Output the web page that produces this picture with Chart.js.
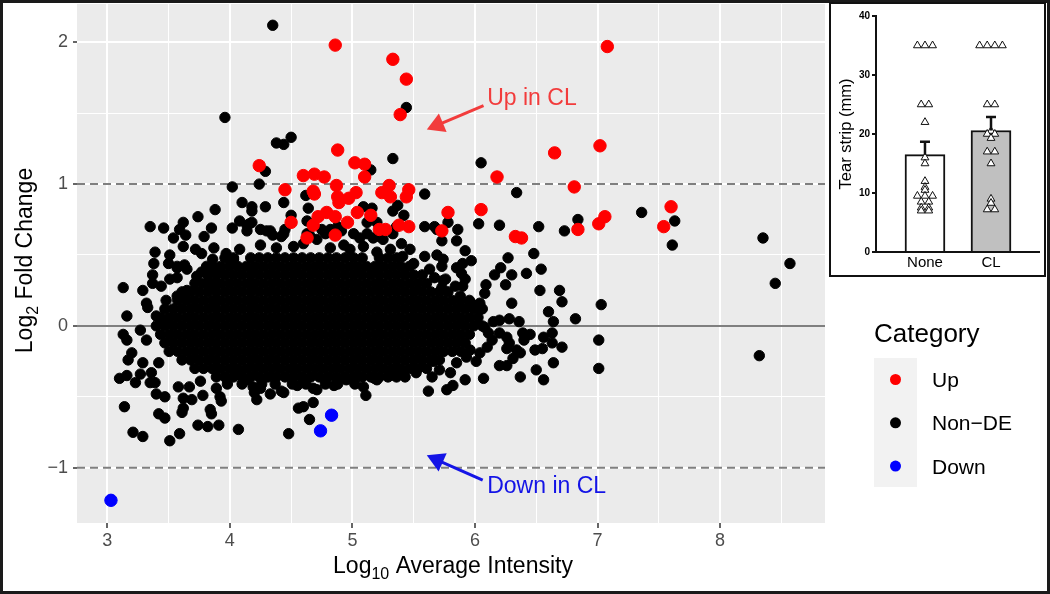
<!DOCTYPE html>
<html lang="en">
<head>
<meta charset="utf-8">
<title>MA plot - CL vs None</title>
<script src="https://cdn.jsdelivr.net/npm/chart.js@4.4.1/dist/chart.umd.min.js"></script>
<style>
    html, body { margin: 0; padding: 0; background: #fff; }
    #page { position: relative; width: 1050px; height: 594px; overflow: hidden; }
    #maChart { position: absolute; left: 0; top: 0; }
    #insetBox { position: absolute; left: 829px; top: 2px; width: 213px; height: 271px; border: 2px solid #111; background: #fff; }
    #insetChart { display: block; }
</style>
</head>
<body>
<div id="page">
    <canvas id="maChart" width="1050" height="594"></canvas>
    <div id="insetBox"><canvas id="insetChart" width="213" height="271"></canvas></div>
</div>
<script>
// ---------- data: MA plot ----------
const xTicks = [3, 4, 5, 6, 7, 8];
const xGrid = [3, 3.5, 4, 4.5, 5, 5.5, 6, 6.5, 7, 7.5, 8, 8.5];
const yTicks = [-1, 0, 1, 2];
const yGrid = [-1, -0.5, 0, 0.5, 1, 1.5, 2];
const foldCutoffs = [-1, 1];
const categories = ["Up", "Non\u2212DE", "Down"];
const legendTitle = "Category";

const upPoints = [
    [4.86,1.98],[5.33,1.88],[5.44,1.74],[5.39,1.49],[4.88,1.24],[4.24,1.13],[5.02,1.15],[5.10,1.14],
    [5.10,1.05],[4.60,1.06],[4.69,1.07],[4.77,1.05],[4.45,0.96],[4.68,0.95],[4.69,0.93],[4.87,0.99],
    [4.88,0.91],[4.89,0.87],[4.97,0.90],[5.03,0.94],[5.24,0.94],[5.30,0.99],[5.31,0.91],[5.44,0.91],
    [5.46,0.96],[4.50,0.73],[4.68,0.71],[4.72,0.77],[4.79,0.80],[4.86,0.77],[4.96,0.73],[5.04,0.80],
    [5.15,0.78],[5.22,0.68],[5.27,0.68],[5.38,0.71],[5.46,0.70],[4.63,0.62],[4.86,0.64],[7.08,1.97],
    [6.65,1.22],[7.02,1.27],[6.18,1.05],[6.81,0.98],[5.78,0.80],[6.05,0.82],[7.60,0.84],[7.54,0.70],
    [7.06,0.77],[7.01,0.72],[6.84,0.68],[5.73,0.67],[6.33,0.63],[6.38,0.62]
];

const downPoints = [[3.03,-1.23],[4.74,-0.74],[4.83,-0.63]];

// scattered Non-DE points outside the dense core
const nonDePoints = [
    [4.35,2.12],[3.96,1.47],[5.44,1.54],[4.38,1.29],[4.44,1.28],[4.50,1.33],[5.33,1.18],[4.29,1.09],
    [5.15,1.10],[6.05,1.15],[4.02,0.98],[4.24,1.00],[4.62,0.92],[5.59,0.93],[6.34,0.94],
    [4.10,0.87],[4.18,0.84],[4.18,0.81],[4.29,0.84],[4.44,0.87],[4.64,0.83],[4.50,0.78],[5.09,0.84],
    [5.16,0.83],[5.37,0.85],[5.42,0.78],[5.33,0.81],[3.88,0.82],[3.74,0.77],[5.20,0.73],[5.12,0.73],
    [3.35,0.70],[3.46,0.69],[3.62,0.73],[3.59,0.68],[3.64,0.64],[3.54,0.62],[3.85,0.69],[3.79,0.63],
    [4.02,0.69],[4.08,0.74],[4.14,0.71],[4.16,0.72],[4.18,0.73],[4.14,0.67],[4.25,0.68],[4.30,0.67],
    [4.35,0.64],[4.33,0.67],[4.44,0.65],[4.45,0.68],[4.42,0.63],[4.63,0.74],[4.63,0.65],[4.65,0.64],
    [4.75,0.68],[4.78,0.65],[4.82,0.68],[4.88,0.70],[4.91,0.67],[5.01,0.65],[5.06,0.62],[5.12,0.65],
    [5.17,0.62],[5.22,0.63],[5.25,0.61],[5.36,0.70],[5.33,0.65],[5.40,0.58],[5.47,0.54],
    [5.59,0.70],[5.67,0.70],[5.69,0.68],[5.78,0.73],[5.86,0.68],[5.73,0.60],[5.85,0.60],[6.03,0.72],
    [6.20,0.71],[6.52,0.70],[6.73,0.67],[6.84,0.75],[7.36,0.80],[7.63,0.74],[7.61,0.57],[8.35,0.62],
    [8.57,0.44],[8.45,0.30],
    [3.39,0.52],[3.38,0.44],[3.51,0.50],[3.50,0.44],[3.72,0.54],[3.77,0.51],[3.87,0.55],[3.62,0.56],
    [3.57,0.42],[3.63,0.43],[3.57,0.41],[3.65,0.40],[3.97,0.51],[4.03,0.47],[4.08,0.54],[3.86,0.47],
    [3.81,0.42],[3.77,0.38],[3.89,0.40],[3.73,0.35],[3.84,0.30],
    [4.52,0.56],[4.60,0.58],[4.71,0.61],[4.82,0.55],[4.93,0.57],[4.98,0.54],[5.09,0.56],[5.20,0.52],
    [5.31,0.54],[5.41,0.49],[5.50,0.44],[4.25,0.57],[4.38,0.55],
    [3.37,0.36],[3.37,0.30],[3.13,0.27],[3.29,0.25],[3.44,0.28],[3.51,0.33],[3.57,0.34],[3.48,0.18],
    [3.57,0.21],[3.65,0.25],[3.40,0.07],[3.46,0.02],[3.32,0.16],[3.33,0.13],[3.16,0.07],[3.13,-0.06],
    [3.27,-0.03],[3.32,-0.10],[3.16,-0.10],[3.20,-0.19],[3.17,-0.24],[3.10,-0.37],[3.16,-0.35],
    [3.14,-0.57],[3.21,-0.75],[3.29,-0.78],[3.29,-0.26],[3.27,-0.34],[3.23,-0.40],[3.36,-0.33],
    [3.42,-0.26],[3.39,-0.40],[3.35,-0.40],[3.40,-0.48],[3.47,-0.50],
    [3.51,-0.81],[3.59,-0.76],[3.42,-0.62],[3.47,-0.65],[3.61,-0.61],[3.62,-0.58],[3.74,-0.70],
    [3.82,-0.71],[3.91,-0.70],[4.07,-0.73],[3.84,-0.59],[3.85,-0.62],[3.78,-0.49],[3.62,-0.51],
    [3.69,-0.52],[3.58,-0.43],[3.67,-0.43],[3.76,-0.39],[3.92,-0.50],[3.93,-0.53],[3.89,-0.44],
    [4.06,-0.33],[4.14,-0.38],[4.20,-0.47],[4.22,-0.52],[4.33,-0.48],[4.42,-0.46],[4.44,-0.47],
    [4.56,-0.58],[4.60,-0.57],[4.68,-0.54],[4.65,-0.66],[4.48,-0.76],[4.68,-0.44],[4.71,-0.45],
    [5.09,-0.43],[5.11,-0.49],[4.95,-0.38],[5.18,-0.37],[5.20,-0.38],[5.31,-0.35],[5.39,-0.32],
    [5.52,-0.33],[4.19,-0.43],[4.25,-0.44],[3.98,-0.41],[4.55,-0.42],[4.85,-0.42],
    [5.59,0.49],[5.69,0.50],[5.74,0.47],[5.76,0.33],[5.67,0.34],[5.63,0.40],[5.73,0.27],[5.73,0.42],
    [5.74,0.32],[5.84,0.28],[5.90,0.28],[5.92,0.53],[5.97,0.46],[5.90,0.44],[5.85,0.41],[5.89,0.37],
    [5.92,0.33],[6.27,0.48],[6.21,0.41],[6.16,0.36],[6.30,0.36],[6.42,0.37],[6.48,0.51],[6.54,0.40],
    [6.25,0.29],[6.09,0.29],[6.08,0.23],[6.04,0.16],[6.05,0.12],[5.97,0.16],[5.88,0.21],[6.30,0.16],
    [6.53,0.25],[6.69,0.25],[6.71,0.17],[6.60,0.10],[6.64,0.03],[6.82,0.05],[7.03,0.15],[7.01,-0.10],
    [7.01,-0.30],[8.32,-0.21],
    [6.15,0.03],[6.20,0.04],[6.28,0.05],[6.36,0.03],[6.08,-0.01],[6.11,-0.05],[6.14,-0.10],
    [6.10,-0.15],[6.04,-0.19],[6.01,-0.25],[6.20,-0.05],[6.26,-0.08],[6.28,-0.12],[6.26,-0.16],
    [6.34,-0.17],[6.37,-0.19],[6.31,-0.23],[6.20,-0.28],[6.26,-0.28],[6.39,-0.05],[6.45,-0.06],
    [6.40,-0.10],[6.56,-0.08],[6.63,-0.05],[6.63,-0.12],[6.71,-0.15],[6.55,-0.16],[6.49,-0.17],
    [6.64,-0.26],[6.50,-0.31],[6.56,-0.38],[6.37,-0.36],[6.07,-0.37],[5.92,-0.38],[5.82,-0.42],
    [5.77,-0.45],[5.62,-0.46],[5.93,-0.22],[5.96,-0.17],[5.85,-0.26],[5.80,-0.33],[5.71,-0.31],
    [5.66,-0.25],[5.65,-0.36]
];

// dense core of Non-DE points, read row by row: [log2 FC, [log10 intensities]]
const nonDeRows = [
    [0.48, [3.96,4.03,4.17,4.24,4.31,4.38,4.45,4.52,4.59,4.66,4.73,4.80,4.87,4.94,5.01,5.08,5.22,5.29,5.36]],
    [0.42, [3.855,3.925,3.995,4.065,4.135,4.205,4.275,4.345,4.415,4.485,4.555,4.625,4.695,4.765,4.835,4.905,4.975,5.045,5.115,5.185,5.255,5.325,5.395,5.465]],
    [0.36, [3.82,3.89,3.96,4.03,4.10,4.17,4.24,4.31,4.38,4.45,4.52,4.59,4.66,4.73,4.80,4.87,4.94,5.01,5.08,5.15,5.22,5.29,5.36,5.43,5.50,5.57]],
    [0.30, [3.715,3.785,3.855,3.925,3.995,4.065,4.135,4.205,4.275,4.345,4.415,4.485,4.555,4.625,4.695,4.765,4.835,4.905,4.975,5.045,5.115,5.185,5.255,5.325,5.395,5.465,5.535,5.605]],
    [0.24, [3.61,3.68,3.75,3.82,3.89,3.96,4.03,4.10,4.17,4.24,4.31,4.38,4.45,4.52,4.59,4.66,4.73,4.80,4.87,4.94,5.01,5.08,5.15,5.22,5.29,5.36,5.43,5.50,5.57,5.64,5.71,5.78]],
    [0.18, [3.575,3.645,3.715,3.785,3.855,3.925,3.995,4.065,4.135,4.205,4.275,4.345,4.415,4.485,4.555,4.625,4.695,4.765,4.835,4.905,4.975,5.045,5.115,5.185,5.255,5.325,5.395,5.465,5.535,5.605,5.675,5.745,5.815,5.885,5.955]],
    [0.12, [3.47,3.54,3.61,3.68,3.75,3.82,3.89,3.96,4.03,4.10,4.17,4.24,4.31,4.38,4.45,4.52,4.59,4.66,4.73,4.80,4.87,4.94,5.01,5.08,5.15,5.22,5.29,5.36,5.43,5.50,5.57,5.64,5.71,5.78,5.85,5.92,5.99,6.06]],
    [0.06, [3.435,3.505,3.575,3.645,3.715,3.785,3.855,3.925,3.995,4.065,4.135,4.205,4.275,4.345,4.415,4.485,4.555,4.625,4.695,4.765,4.835,4.905,4.975,5.045,5.115,5.185,5.255,5.325,5.395,5.465,5.535,5.605,5.675,5.745,5.815,5.885,5.955,6.025]],
    [0.00, [3.40,3.47,3.54,3.61,3.68,3.75,3.82,3.89,3.96,4.03,4.10,4.17,4.24,4.31,4.38,4.45,4.52,4.59,4.66,4.73,4.80,4.87,4.94,5.01,5.08,5.15,5.22,5.29,5.36,5.43,5.50,5.57,5.64,5.71,5.78,5.85,5.92,5.99,6.06]],
    [-0.06, [3.435,3.505,3.575,3.645,3.715,3.785,3.855,3.925,3.995,4.065,4.135,4.205,4.275,4.345,4.415,4.485,4.555,4.625,4.695,4.765,4.835,4.905,4.975,5.045,5.115,5.185,5.255,5.325,5.395,5.465,5.535,5.605,5.675,5.745,5.815,5.885,5.955]],
    [-0.12, [3.47,3.54,3.61,3.68,3.75,3.82,3.89,3.96,4.03,4.10,4.17,4.24,4.31,4.38,4.45,4.52,4.59,4.66,4.73,4.80,4.87,4.94,5.01,5.08,5.15,5.22,5.29,5.36,5.43,5.50,5.57,5.64,5.71,5.78,5.85,5.92]],
    [-0.18, [3.505,3.575,3.645,3.715,3.785,3.855,3.925,3.995,4.065,4.135,4.205,4.275,4.345,4.415,4.485,4.555,4.625,4.695,4.765,4.835,4.905,4.975,5.045,5.115,5.185,5.255,5.325,5.395,5.465,5.535,5.605,5.675,5.745,5.815,5.885]],
    [-0.24, [3.61,3.68,3.75,3.82,3.89,3.96,4.03,4.10,4.17,4.24,4.31,4.38,4.45,4.52,4.59,4.66,4.73,4.80,4.87,4.94,5.01,5.08,5.15,5.22,5.29,5.36,5.43,5.50,5.57,5.64,5.71]],
    [-0.30, [3.715,3.785,3.855,3.925,3.995,4.065,4.135,4.205,4.275,4.345,4.415,4.485,4.555,4.625,4.695,4.765,4.835,4.905,4.975,5.045,5.115,5.185,5.255,5.325,5.395,5.465,5.535,5.605]],
    [-0.36, [3.89,3.96,4.03,4.10,4.17,4.24,4.31,4.38,4.45,4.52,4.59,4.66,4.73,4.80,4.87,4.94,5.01,5.08,5.15,5.22,5.29,5.36,5.43]],
    [-0.41, [4.10,4.26,4.37,4.51,4.62,4.78,4.88,5.02]]
];

// ---------- data: inset (tear strip) ----------
const insetGroups = ["None", "CL"];
const insetMeans = [16.5, 20.6];
const insetSem = [2.2, 2.3];
const tearNone = [35, 35, 35, 25, 25, 22, 16, 15, 12, 11, 10.5, 9.5, 9.5, 9.5, 8.5, 8.5, 7.5, 7.5, 7, 7];
const tearCL = [35, 35, 35, 35, 25, 25, 20.5, 20, 20, 19.3, 17, 17, 15, 9, 8.3, 7.2, 7.2];
const insetTicks = [0, 10, 20, 30, 40];

// ---------- styles ----------
const FONT = "'Liberation Sans', Arial, Helvetica, sans-serif";
const catColor = { "Up": "#FF0000", "Non\u2212DE": "#000000", "Down": "#0000FF" };

const notes = [
    { text: "Up in CL", color: "#F23C3C", at: [6.10, 1.56], tail: [6.07, 1.553], head: [5.607, 1.385] },
    { text: "Down in CL", color: "#1414E6", at: [6.10, -1.181], tail: [6.063, -1.087], head: [5.607, -0.913] }
];

function toXY(list) {
    return list.map(p => ({ x: p[0], y: p[1] }));
}

const nonDeAll = nonDePoints.concat(nonDeRows.flatMap(r => r[1].map(x => [x, r[0]])));

function drawArrow(ctx, x1, y1, x2, y2, color) {
    const ang = Math.atan2(y2 - y1, x2 - x1);
    const headLen = 20, headAng = Math.PI / 6;
    ctx.strokeStyle = color;
    ctx.fillStyle = color;
    ctx.lineWidth = 3;
    ctx.beginPath();
    ctx.moveTo(x1, y1);
    ctx.lineTo(x2 - Math.cos(ang) * 14, y2 - Math.sin(ang) * 14);
    ctx.stroke();
    ctx.beginPath();
    ctx.moveTo(x2, y2);
    ctx.lineTo(x2 - headLen * Math.cos(ang - headAng), y2 - headLen * Math.sin(ang - headAng));
    ctx.lineTo(x2 - headLen * Math.cos(ang + headAng), y2 - headLen * Math.sin(ang + headAng));
    ctx.closePath();
    ctx.fill();
}

// text with a subscript part, centred on x
function drawSubText(ctx, parts, cx, y) {
    const big = `23px ${FONT}`, small = `16px ${FONT}`;
    let total = 0;
    const widths = parts.map(p => {
        ctx.font = p[1] ? small : big;
        const w = ctx.measureText(p[0]).width;
        total += w;
        return w;
    });
    let x = cx - total / 2;
    ctx.textAlign = "left";
    ctx.textBaseline = "alphabetic";
    parts.forEach((p, i) => {
        ctx.font = p[1] ? small : big;
        ctx.fillText(p[0], x, p[1] ? y + 6 : y);
        x += widths[i];
    });
}

// keep the panel exactly where the reference has it (no label overhang padding)
function noOverhang(ax) {
    ax.paddingTop = 0;
    ax.paddingBottom = 0;
    ax.paddingLeft = 0;
    ax.paddingRight = 0;
}

const maDecor = {
    id: "maDecor",
    beforeDraw(chart) {
        const { ctx, chartArea: a } = chart;
        ctx.save();
        ctx.fillStyle = "#FFFFFF";
        ctx.fillRect(0, 0, chart.width, chart.height);
        ctx.fillStyle = "#EBEBEB";
        ctx.fillRect(a.left, a.top, a.right - a.left, a.bottom - a.top);
        ctx.restore();
    },
    beforeDatasetsDraw(chart) {
        const { ctx, chartArea: a, scales } = chart;
        ctx.save();
        ctx.strokeStyle = "#7F7F7F";
        ctx.lineWidth = 2;
        let py = scales.y.getPixelForValue(0);
        ctx.beginPath();
        ctx.moveTo(a.left, py);
        ctx.lineTo(a.right, py);
        ctx.stroke();
        ctx.setLineDash([8, 5]);
        foldCutoffs.forEach(v => {
            py = scales.y.getPixelForValue(v);
            ctx.beginPath();
            ctx.moveTo(a.left, py);
            ctx.lineTo(a.right, py);
            ctx.stroke();
        });
        ctx.restore();
    },
    afterDatasetsDraw(chart) {
        const { ctx, scales: { x, y } } = chart;
        ctx.save();
        notes.forEach(n => {
            drawArrow(ctx, x.getPixelForValue(n.tail[0]), y.getPixelForValue(n.tail[1]),
                x.getPixelForValue(n.head[0]), y.getPixelForValue(n.head[1]), n.color);
            ctx.fillStyle = n.color;
            ctx.font = `23px ${FONT}`;
            ctx.textAlign = "left";
            ctx.textBaseline = "alphabetic";
            ctx.fillText(n.text, x.getPixelForValue(n.at[0]), y.getPixelForValue(n.at[1]));
        });
        ctx.restore();
    },
    afterDraw(chart) {
        const { ctx, chartArea: a } = chart;
        ctx.save();
        ctx.fillStyle = "#000000";
        // axis titles
        drawSubText(ctx, [["Log", false], ["10", true], [" Average Intensity", false]], (a.left + a.right) / 2 + 2, 573);
        ctx.save();
        ctx.translate(31.5, (a.top + a.bottom) / 2 - 3);
        ctx.rotate(-Math.PI / 2);
        drawSubText(ctx, [["Log", false], ["2", true], [" Fold Change", false]], 0, 0);
        ctx.restore();

        // legend
        ctx.fillStyle = "#000000";
        ctx.font = `26px ${FONT}`;
        ctx.textAlign = "left";
        ctx.textBaseline = "alphabetic";
        ctx.fillText(legendTitle, 874, 342);
        ctx.fillStyle = "#F2F2F2";
        ctx.fillRect(874, 358, 43, 129);
        categories.forEach((c, i) => {
            const cy = 379.5 + i * 43.3;
            ctx.beginPath();
            ctx.arc(895.5, cy, 5.5, 0, Math.PI * 2);
            ctx.fillStyle = catColor[c];
            ctx.fill();
            ctx.fillStyle = "#000000";
            ctx.font = `21px ${FONT}`;
            ctx.fillText(c, 932, cy + 7.5);
        });

        // frame round the whole figure
        ctx.strokeStyle = "#1A1A1A";
        ctx.lineWidth = 3;
        ctx.strokeRect(1.5, 1.5, 1047, 591);
        ctx.restore();
    }
};

const isMajorX = c => c.tick && xTicks.includes(c.tick.value);
const isMajorY = c => c.tick && yTicks.includes(c.tick.value);

const maChart = new Chart(document.getElementById("maChart"), {
    type: "scatter",
    data: {
        datasets: [
            {
                label: categories[0], data: toXY(upPoints), order: 0,
                pointRadius: 6.2, pointBorderWidth: 1,
                pointBackgroundColor: catColor["Up"], pointBorderColor: catColor["Up"]
            },
            {
                label: categories[2], data: toXY(downPoints), order: 1,
                pointRadius: 6.2, pointBorderWidth: 1,
                pointBackgroundColor: catColor["Down"], pointBorderColor: catColor["Down"]
            },
            {
                label: categories[1], data: toXY(nonDeAll), order: 2,
                pointRadius: 5.2, pointBorderWidth: 1,
                pointBackgroundColor: catColor["Non\u2212DE"], pointBorderColor: catColor["Non\u2212DE"]
            }
        ]
    },
    options: {
        responsive: false,
        animation: false,
        events: [],
        devicePixelRatio: 1,
        layout: { autoPadding: false, padding: { left: 0, top: 4, right: 225, bottom: 0 } },
        plugins: { legend: { display: false }, tooltip: { enabled: false } },
        scales: {
            x: {
                type: "linear", min: 2.753, max: 8.856,
                afterBuildTicks: ax => { ax.ticks = xGrid.map(v => ({ value: v })); },
                afterFit: ax => { ax.height = 71; noOverhang(ax); },
                border: { display: false },
                grid: {
                    color: "#FFFFFF",
                    lineWidth: c => isMajorX(c) ? 2 : 1,
                    tickColor: c => isMajorX(c) ? "#333333" : "rgba(0,0,0,0)",
                    tickLength: 5, tickWidth: 1.5
                },
                ticks: {
                    color: "#4D4D4D", font: { family: FONT, size: 18 }, padding: 2,
                    autoSkip: false, maxRotation: 0,
                    callback: v => xTicks.includes(v) ? String(v) : ""
                }
            },
            y: {
                type: "linear", min: -1.39, max: 2.27,
                afterBuildTicks: ax => { ax.ticks = yGrid.map(v => ({ value: v })); },
                afterFit: ax => { ax.width = 77; noOverhang(ax); },
                border: { display: false },
                grid: {
                    color: "#FFFFFF",
                    lineWidth: c => isMajorY(c) ? 2 : 1,
                    tickColor: c => isMajorY(c) ? "#333333" : "rgba(0,0,0,0)",
                    tickLength: 4, tickWidth: 1.5
                },
                ticks: {
                    color: "#4D4D4D", font: { family: FONT, size: 18 }, padding: 5,
                    autoSkip: false,
                    callback: v => yTicks.includes(v) ? String(v).replace("-", "\u2212") : ""
                }
            }
        }
    },
    plugins: [maDecor]
});

// ---------- inset ----------
// spread identical values side by side, like a small beeswarm
function swarm(values, group) {
    const counts = {}, seen = {};
    values.forEach(v => { counts[v] = (counts[v] || 0) + 1; });
    return values.map(v => {
        seen[v] = (seen[v] || 0) + 1;
        const off = (seen[v] - 1 - (counts[v] - 1) / 2) * 0.115;
        return { x: group + off, y: v };
    });
}

const insetDecor = {
    id: "insetDecor",
    beforeDraw(chart) {
        const { ctx } = chart;
        ctx.save();
        ctx.fillStyle = "#FFFFFF";
        ctx.fillRect(0, 0, chart.width, chart.height);
        ctx.restore();
    },
    afterDatasetsDraw(chart) {
        const { ctx, scales: { x, y } } = chart;
        ctx.save();
        ctx.strokeStyle = "#111111";
        ctx.lineWidth = 2.5;
        insetMeans.forEach((m, i) => {
            const px = x.getPixelForValue(i);
            const y0 = y.getPixelForValue(m);
            const y1 = y.getPixelForValue(m + insetSem[i]);
            ctx.beginPath();
            ctx.moveTo(px, y0);
            ctx.lineTo(px, y1);
            ctx.moveTo(px - 5, y1);
            ctx.lineTo(px + 5, y1);
            ctx.stroke();
        });
        ctx.restore();
    },
    afterDraw(chart) {
        const { ctx, chartArea: a } = chart;
        ctx.save();
        ctx.translate(20, (a.top + a.bottom) / 2);
        ctx.rotate(-Math.PI / 2);
        ctx.fillStyle = "#000000";
        ctx.font = `16.5px ${FONT}`;
        ctx.textAlign = "center";
        ctx.textBaseline = "alphabetic";
        ctx.fillText("Tear strip (mm)", 0, 0);
        ctx.restore();
    }
};

new Chart(document.getElementById("insetChart"), {
    type: "bar",
    data: {
        datasets: [
            {
                type: "scatter", order: 0,
                data: swarm(tearNone, 0).concat(swarm(tearCL, 1)),
                pointStyle: "triangle", pointRadius: 4.5, pointBorderWidth: 1,
                pointBackgroundColor: "#FFFFFF", pointBorderColor: "#111111"
            },
            {
                type: "bar", order: 1,
                data: insetMeans.map((m, i) => ({ x: i, y: m })),
                backgroundColor: ["#FFFFFF", "#C0C0C0"], borderColor: "#111111",
                borderWidth: 2, barThickness: 40
            }
        ]
    },
    options: {
        responsive: false,
        animation: false,
        events: [],
        devicePixelRatio: 1,
        layout: { autoPadding: false, padding: { left: 0, top: 12, right: 5, bottom: 0 } },
        plugins: { legend: { display: false }, tooltip: { enabled: false } },
        scales: {
            x: {
                type: "linear", min: -0.742, max: 1.727, offset: false,
                afterBuildTicks: ax => { ax.ticks = insetGroups.map((g, i) => ({ value: i })); },
                afterFit: ax => { ax.height = 23; },
                grid: { display: false, drawTicks: false, offset: false },
                border: { display: true, color: "#111111", width: 2 },
                ticks: { color: "#000000", font: { family: FONT, size: 15 }, padding: 2, callback: v => insetGroups[v] }
            },
            y: {
                type: "linear", min: 0, max: 40,
                afterBuildTicks: ax => { ax.ticks = insetTicks.map(v => ({ value: v })); },
                afterFit: ax => { ax.width = 45; },
                grid: { drawOnChartArea: false, color: "#111111", tickLength: 4, lineWidth: 2 },
                border: { display: true, color: "#111111", width: 2 },
                ticks: { color: "#000000", font: { family: FONT, size: 10, weight: "bold" }, padding: 2 }
            }
        }
    },
    plugins: [insetDecor]
});
</script>
</body>
</html>
